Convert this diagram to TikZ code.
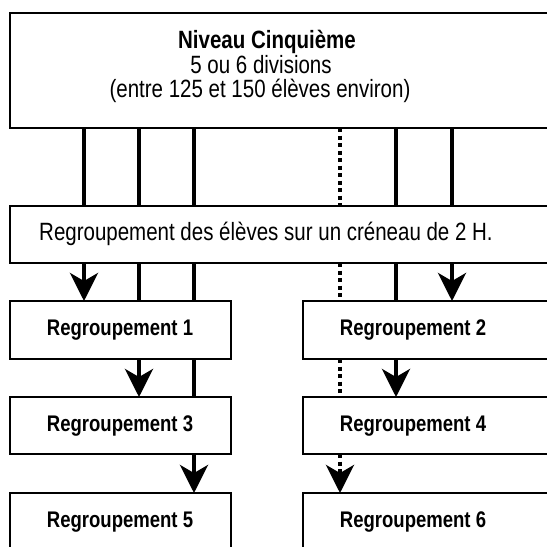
\documentclass[tikz,border=0pt]{standalone}
\usepackage{fontspec}
\setmainfont[FakeStretch=0.82]{Liberation Sans}
\usetikzlibrary{arrows.meta}
\begin{document}
\begin{tikzpicture}[x=1pt,y=-1pt,
 box/.style={draw,line width=1.6pt,rectangle,inner sep=0pt,outer sep=0pt,anchor=north west},
 link/.style={line width=4pt},
 dotlink/.style={line width=4pt,dash pattern=on 4pt off 3.5pt},
 tip/.style={-{Stealth[length=28pt,width=28pt,inset=8pt]}},
 big/.style={font=\fontsize{25}{24.7}\selectfont, inner sep=0pt, anchor=base},
 bigb/.style={font=\bfseries\fontsize{25}{24.7}\selectfont, inner sep=0pt, anchor=base},
 lab/.style={font=\bfseries\fontsize{22.6}{24}\selectfont, inner sep=0pt, anchor=base}]
\useasboundingbox (0,0) rectangle (547,547);
\clip (0,0) rectangle (547,547);
% boxes
\node[box,minimum width=550pt,minimum height=115pt] (top) at (10,13) {};
\node[box,minimum width=550pt,minimum height=57pt] (mid) at (10,206) {};
\node[box,minimum width=221pt,minimum height=58pt] (r1) at (10,301) {};
\node[box,minimum width=221pt,minimum height=57pt] (r3) at (10,397) {};
\node[box,minimum width=221pt,minimum height=70pt] (r5) at (10,493) {};
\node[box,minimum width=260pt,minimum height=58pt] (r2) at (303,301) {};
\node[box,minimum width=260pt,minimum height=57pt] (r4) at (303,397) {};
\node[box,minimum width=260pt,minimum height=70pt] (r6) at (303,493) {};
% texts
\node[bigb] (t1) at (267,48.3) {Niveau Cinquième};
\node[big] (t2) at (261,73.3) {5 ou 6 divisions};
\node[big] (t3) at (260,97.7) {(entre 125 et 150 élèves environ)};
\node[big] (tm) at (266,240.7) {Regroupement des élèves sur un créneau de 2 H.};
\node[lab] (l1) at (120,335) {Regroupement 1};
\node[lab] (l3) at (120,431.5) {Regroupement 3};
\node[lab] (l5) at (120,527) {Regroupement 5};
\node[lab] (l2) at (413,335) {Regroupement 2};
\node[lab] (l4) at (413,431.5) {Regroupement 4};
\node[lab] (l6) at (413,527) {Regroupement 6};
% columns
\coordinate (c1) at (84,0);
\coordinate (c2) at (139,0);
\coordinate (c3) at (194,0);
\coordinate (c4) at (340,0);
\coordinate (c5) at (396,0);
\coordinate (c6) at (452,0);
% top -> mid
\draw[link] (top.south -| c1) -- (mid.north -| c1);
\draw[link] (top.south -| c2) -- (mid.north -| c2);
\draw[link] (top.south -| c3) -- (mid.north -| c3);
\draw[dotlink] (top.south -| c4) -- (mid.north -| c4);
\draw[link] (top.south -| c5) -- (mid.north -| c5);
\draw[link] (top.south -| c6) -- (mid.north -| c6);
% mid -> row 1
\draw[link,tip] (mid.south -| c1) -- (r1.north -| c1);
\draw[link] (mid.south -| c2) -- (r1.north -| c2);
\draw[link] (mid.south -| c3) -- (r1.north -| c3);
\draw[dotlink] (mid.south -| c4) -- (r2.north -| c4);
\draw[link] (mid.south -| c5) -- (r2.north -| c5);
\draw[link,tip] (mid.south -| c6) -- (r2.north -| c6);
% row 1 -> row 2
\draw[link,tip] (r1.south -| c2) -- (r3.north -| c2);
\draw[link] (r1.south -| c3) -- (r3.north -| c3);
\draw[dotlink] (r2.south -| c4) -- (r4.north -| c4);
\draw[link,tip] (r2.south -| c5) -- (r4.north -| c5);
% row 2 -> row 3
\draw[link,tip] (r3.south -| c3) -- (r5.north -| c3);
\draw[dotlink,tip] (r4.south -| c4) -- (r6.north -| c4);
\end{tikzpicture}
\end{document}
